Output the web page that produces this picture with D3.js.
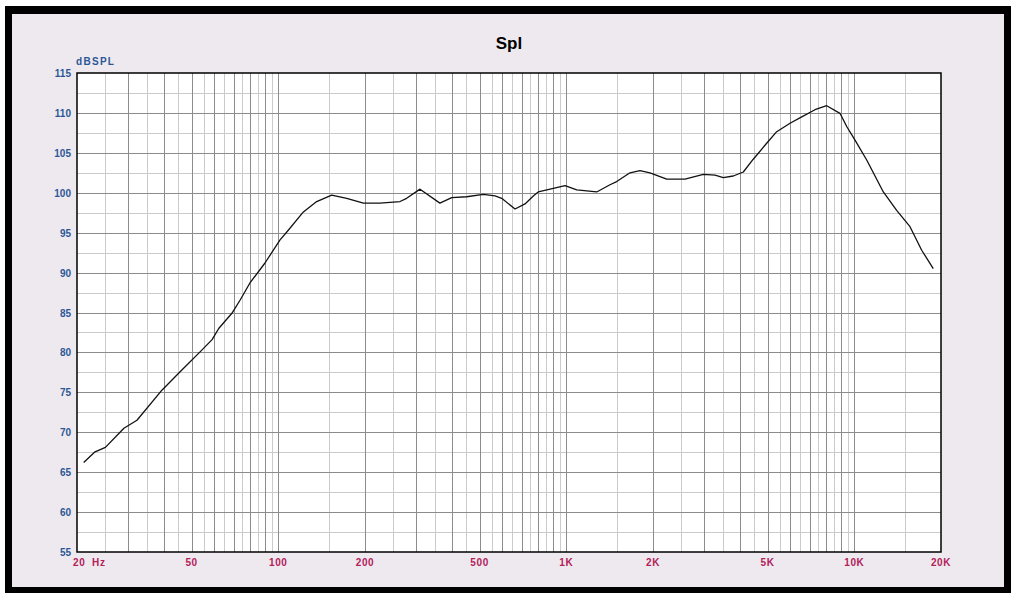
<!DOCTYPE html>
<html>
<head>
<meta charset="utf-8">
<script src="https://cdn.jsdelivr.net/npm/d3@7"></script>
<style>
  html, body { margin: 0; padding: 0; background: #ffffff; }
  svg { display: block; }
  text { font-family: "Liberation Sans", Arial, sans-serif; }
</style>
</head>
<body>
<svg id="chart" width="1016" height="595"></svg>
<script>
// ---- data ----
const chartTitle = "Spl";
const yAxisLabel = "dBSPL";
const freqHz = [21.1, 23.1, 25.1, 29.1, 32.3, 39.5, 45.7, 53.6, 58.9, 62.1, 69, 73.8, 79.7, 89.9,
  101.4, 108.3, 122.2, 135.9, 153.2, 172.8, 197.5, 225.6, 264.6, 279, 310.5, 364, 400, 451, 515,
  565.6, 596.6, 663.6, 718.8, 768, 799, 901.6, 990, 1087, 1275, 1418, 1496, 1664, 1802, 1952,
  2231, 2582, 2991, 3284, 3508, 3800, 4118, 4458, 4963, 5377, 5982, 6568, 7302, 8018, 8918,
  9412, 10058, 11042, 12612, 14030, 15610, 17140, 18800];
const splDb = [66.2, 67.55, 68.1, 70.5, 71.5, 75.3, 77.6, 80.1, 81.6, 83.0, 84.9, 86.6, 88.7, 91.2,
  94.1, 95.3, 97.6, 98.9, 99.7, 99.3, 98.7, 98.7, 98.9, 99.3, 100.45, 98.7, 99.4, 99.5, 99.8,
  99.6, 99.3, 97.97, 98.6, 99.6, 100.1, 100.56, 100.9, 100.35, 100.1, 101.0, 101.4, 102.5, 102.77, 102.5,
  101.7, 101.7, 102.3, 102.2, 101.9, 102.1, 102.6, 104.2, 106.2, 107.65, 108.7, 109.5, 110.4, 110.9, 109.95,
  108.3, 106.6, 104.1, 100.1, 97.8, 95.75, 92.8, 90.5];
const xTickValues = [20, 50, 100, 200, 500, 1000, 2000, 5000, 10000, 20000];
const xTickLabels = ["20  Hz", "50", "100", "200", "500", "1K", "2K", "5K", "10K", "20K"];
const yTickValues = [55, 60, 65, 70, 75, 80, 85, 90, 95, 100, 105, 110, 115];
const xDomain = [20, 20000];
const yDomain = [55, 115];

// ---- layout ----
const svg = d3.select("#chart");
const plot = { left: 77, right: 941, top: 73, bottom: 552 };

// frame
svg.append("rect").attr("x", 5).attr("y", 6).attr("width", 1006).attr("height", 587).attr("fill", "#000");
svg.append("rect").attr("x", 12).attr("y", 14).attr("width", 992).attr("height", 573).attr("fill", "#eee9ee");

const x = d3.scaleLog().domain(xDomain).range([plot.left, plot.right]);
const y = d3.scaleLinear().domain(yDomain).range([plot.bottom, plot.top]);

// plot background
svg.append("rect").attr("x", plot.left).attr("y", plot.top)
  .attr("width", plot.right - plot.left).attr("height", plot.bottom - plot.top).attr("fill", "#fff");

// grid values
const majorX = [], minorX = [];
for (let d = 10; d <= 10000; d *= 10) {
  for (let k = 1; k <= 9; k++) {
    const f = k * d, h = (k + 0.5) * d;
    if (f > xDomain[0] && f < xDomain[1]) majorX.push(f);
    if (h > xDomain[0] && h < xDomain[1]) minorX.push(h);
  }
}
const majorY = d3.range(60, 115, 5);
const minorY = d3.range(57.5, 115, 5);

const grid = svg.append("g").attr("shape-rendering", "crispEdges");
grid.selectAll(".mnx").data(minorX).join("line")
  .attr("x1", d => Math.round(x(d)) + 0.5).attr("x2", d => Math.round(x(d)) + 0.5)
  .attr("y1", plot.top).attr("y2", plot.bottom).attr("stroke", "#cbcbcb").attr("stroke-width", 1);
grid.selectAll(".mny").data(minorY).join("line")
  .attr("y1", d => Math.round(y(d)) + 0.5).attr("y2", d => Math.round(y(d)) + 0.5)
  .attr("x1", plot.left).attr("x2", plot.right).attr("stroke", "#cbcbcb").attr("stroke-width", 1);
grid.selectAll(".mjx").data(majorX).join("line")
  .attr("x1", d => Math.round(x(d)) + 0.5).attr("x2", d => Math.round(x(d)) + 0.5)
  .attr("y1", plot.top).attr("y2", plot.bottom).attr("stroke", "#8c8c8c").attr("stroke-width", 1);
grid.selectAll(".mjy").data(majorY).join("line")
  .attr("y1", d => Math.round(y(d)) + 0.5).attr("y2", d => Math.round(y(d)) + 0.5)
  .attr("x1", plot.left).attr("x2", plot.right).attr("stroke", "#8c8c8c").attr("stroke-width", 1);

// plot border
svg.append("rect").attr("x", plot.left).attr("y", plot.top)
  .attr("width", plot.right - plot.left).attr("height", plot.bottom - plot.top)
  .attr("fill", "none").attr("stroke", "#000").attr("stroke-width", 1.5);

// curve
const pts = freqHz.map((f, i) => [f, splDb[i]]);
svg.append("path").datum(pts)
  .attr("d", d3.line().x(d => x(d[0])).y(d => y(d[1])))
  .attr("fill", "none").attr("stroke", "#111").attr("stroke-width", 1.3)
  .attr("stroke-linejoin", "round");

// title
svg.append("text").attr("x", 509).attr("y", 49).attr("text-anchor", "middle")
  .attr("font-size", 17).attr("font-weight", "bold").attr("fill", "#000").text(chartTitle);

// y label
svg.append("text").attr("x", 76).attr("y", 65).attr("font-size", 10).attr("font-weight", "bold")
  .attr("letter-spacing", 1.3).attr("fill", "#2b5797").text(yAxisLabel);

// y ticks
svg.append("g").selectAll("text").data(yTickValues).join("text")
  .attr("x", 71).attr("y", d => y(d) + 4).attr("text-anchor", "end")
  .attr("font-size", 10).attr("font-weight", "bold").attr("fill", "#2b5797")
  .text(d => d);

// x ticks
svg.append("g").selectAll("text").data(xTickValues).join("text")
  .attr("x", (d, i) => i === 0 ? x(d) - 4 : x(d))
  .attr("y", 566)
  .attr("text-anchor", (d, i) => i === 0 ? "start" : "middle")
  .attr("font-size", 10).attr("font-weight", "bold").attr("letter-spacing", 0.6)
  .attr("fill", "#b3205a").style("white-space", "pre")
  .text((d, i) => xTickLabels[i]);
</script>
</body>
</html>
